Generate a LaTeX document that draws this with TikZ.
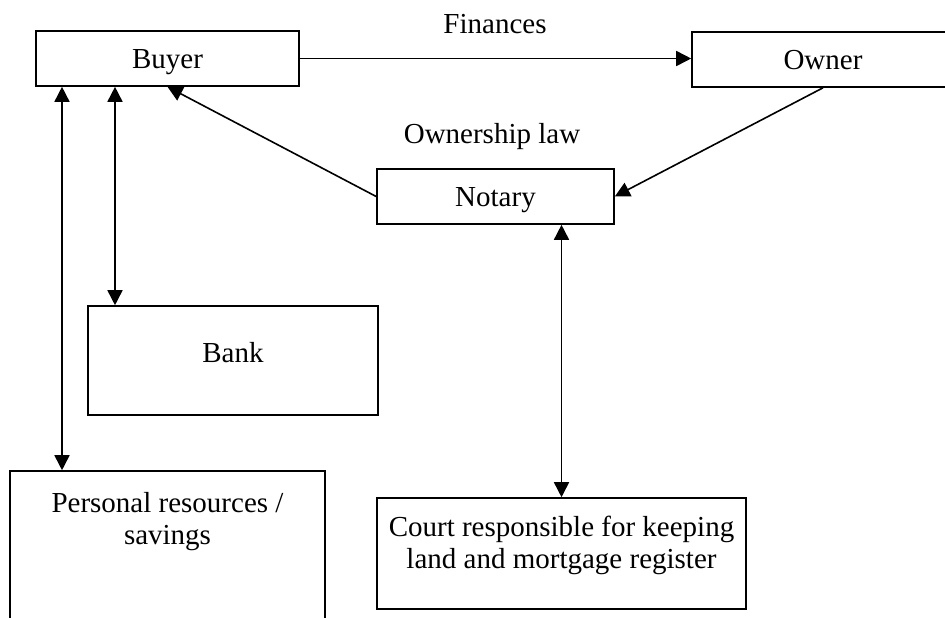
\documentclass[tikz,border=0pt]{standalone}
\usepackage{fontspec}
\setmainfont{Liberation Serif}
\usetikzlibrary{arrows.meta,positioning}

\begin{document}
\begin{tikzpicture}[x=0.5pt,y=-0.5pt,
  font=\fontsize{14.5}{16}\selectfont,
  box/.style={draw,line width=0.8pt,inner sep=0pt,text height=11.5pt,text depth=1.5pt},
  link/.style={line width=0.8pt,-{Triangle[length=7.5pt,width=7.5pt]}},
  both/.style={line width=0.8pt,{Triangle[length=7.5pt,width=7.5pt]}-{Triangle[length=7.5pt,width=7.5pt]}}]
\clip (0,0) rectangle (945,617);

\node[box,minimum width=131.5pt,minimum height=27.5pt] (buyer) at (167.5,58.5) {Buyer};
\node[box,minimum width=131pt,minimum height=27.5pt] (owner) at (823,59.5) {Owner};
\node[box,minimum width=118.5pt,minimum height=27.5pt] (notary) at (495.5,196.5) {Notary};
\node[box,minimum width=145pt,minimum height=54.5pt] (bank) at (233,360.5) {};
\node[box,minimum width=157.5pt,minimum height=94.5pt] (personal) at (167.5,565.5) {};
\node[box,minimum width=184.5pt,minimum height=55.5pt] (court) at (561.5,553.5) {};

% texts in the taller boxes
\node[anchor=base] (banktext) at (233,362) {Bank};
\node[below=11pt of personal.north,inner sep=0pt,align=center] (personaltext) {Personal resources /\\savings};
\node[below=9pt of court.north,inner sep=0pt,align=center] (courttext) {Court responsible for keeping\\land and mortgage register};

\node[anchor=base] (finances) at (495,33) {Finances};
\node[anchor=base] (lawtext) at (492,143) {Ownership law};

\coordinate (lane1) at (62,0);
\coordinate (lane2) at (115,0);

\draw[link] (buyer.east) -- (buyer.east -| owner.west);
\draw[link] (owner.south) -- (notary.east);
\draw[link] (notary.west) -- (buyer.south);
\draw[both] (buyer.south -| lane1) -- (personal.north -| lane1);
\draw[both] (buyer.south -| lane2) -- (bank.north -| lane2);
\draw[both] (notary.south -| court.north) -- (court.north);
\end{tikzpicture}
\end{document}
